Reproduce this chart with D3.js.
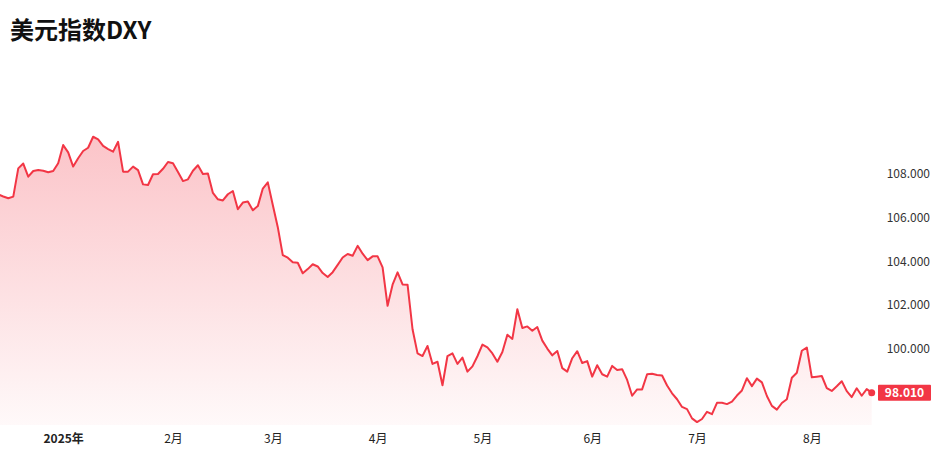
<!DOCTYPE html>
<html>
<head>
<meta charset="utf-8">
<script src="https://cdn.jsdelivr.net/npm/d3@7"></script>
<style>
  html, body { margin: 0; padding: 0; background: #fff; }
  svg { display: block; }
  text { font-family: "Noto Sans CJK SC", "Noto Sans", sans-serif; }
</style>
</head>
<body>
<svg id="chart" width="950" height="460"></svg>
<script>
// DXY daily closes (trading days, mid-Dec 2024 .. late Aug 2025)
const values = [
  107.04,106.95,106.87,106.94,108.23,108.45,107.85,108.11,108.15,108.12,
  108.05,108.11,108.46,109.29,108.96,108.31,108.69,109.02,109.17,109.67,
  109.55,109.25,109.11,108.99,109.44,108.08,108.08,108.31,108.15,107.50,
  107.47,107.96,107.97,108.21,108.52,108.46,108.06,107.65,107.73,108.12,
  108.37,107.97,107.99,107.11,106.82,106.77,107.05,107.20,106.37,106.67,
  106.72,106.32,106.51,107.31,107.59,106.56,105.55,104.28,104.16,103.95,
  103.93,103.45,103.64,103.86,103.76,103.46,103.28,103.50,103.83,104.17,
  104.33,104.25,104.70,104.34,104.05,104.22,104.22,103.72,101.97,102.93,
  103.49,102.94,102.93,100.90,99.80,99.68,100.14,99.32,99.42,98.35,
  99.68,99.80,99.32,99.61,98.97,99.21,99.67,100.20,100.07,99.80,
  99.42,99.86,100.65,100.46,101.81,100.96,101.03,100.83,101.00,100.38,
  100.02,99.71,99.91,99.13,98.97,99.58,99.90,99.36,99.45,98.74,
  99.26,98.85,98.74,99.23,99.04,99.08,98.59,97.87,98.16,98.16,
  98.85,98.87,98.82,98.79,98.34,97.98,97.71,97.36,97.26,96.84,
  96.67,96.81,97.14,97.03,97.55,97.55,97.49,97.60,97.88,98.11,
  98.67,98.31,98.65,98.48,97.86,97.41,97.24,97.54,97.71,98.69,
  98.92,99.92,100.07,98.71,98.74,98.77,98.22,98.09,98.30,98.53,
  98.08,97.81,98.21,97.87,98.17,98.01
];
const tickIdx = [13, 35, 55, 76, 97, 119, 140, 163];
const tickLabels = ["2025年", "2月", "3月", "4月", "5月", "6月", "7月", "8月"];
const yTicks = [100, 102, 104, 106, 108];
const title = "美元指数DXY";
const lastLabel = "98.010";

const RED = "#f23645";
const svg = d3.select("#chart");

const x = d3.scaleLinear().domain([0, values.length - 1]).range([-1.7, 871.7]);
const y = d3.scaleLinear().domain([100, 108]).range([349, 173.4]);
const baseY = 425;

// gradient
const defs = svg.append("defs");
const grad = defs.append("linearGradient")
  .attr("id", "fillGrad").attr("gradientUnits", "userSpaceOnUse")
  .attr("x1", 0).attr("x2", 0).attr("y1", 130).attr("y2", baseY);
grad.append("stop").attr("offset", "0%").attr("stop-color", RED).attr("stop-opacity", 0.3);
grad.append("stop").attr("offset", "100%").attr("stop-color", RED).attr("stop-opacity", 0.03);

const area = d3.area().x((d, i) => x(i)).y0(baseY).y1(d => y(d));
const line = d3.line().x((d, i) => x(i)).y(d => y(d));

svg.append("path").datum(values).attr("d", area).attr("fill", "url(#fillGrad)");
svg.append("path").datum(values).attr("d", line)
  .attr("fill", "none").attr("stroke", RED).attr("stroke-width", 2)
  .attr("stroke-linejoin", "round");

// last point
const li = values.length - 1;
svg.append("circle").attr("cx", x(li)).attr("cy", y(values[li])).attr("r", 3.5).attr("fill", RED);

// y axis
const yAxis = svg.append("g").attr("transform", "translate(930,0)")
  .call(d3.axisLeft(y).tickValues(yTicks).tickFormat(d3.format(".3f")).tickSize(0).tickPadding(0));
yAxis.select(".domain").remove();
yAxis.selectAll("text").attr("font-size", 12).attr("fill", "#333")
  .style("font-family", "'Noto Sans CJK SC', sans-serif");

// last value tag
const ty = y(values[li]);
svg.append("rect").attr("x", 878).attr("y", ty - 8).attr("width", 53).attr("height", 16)
  .attr("rx", 1).attr("fill", RED);
svg.append("text").attr("x", 904.5).attr("y", ty).attr("dy", "0.35em")
  .attr("text-anchor", "middle").attr("fill", "#fff").attr("font-size", 12)
  .attr("font-weight", "bold").text(lastLabel);

// x axis
const xAxis = svg.append("g").attr("transform", `translate(0,${baseY})`)
  .call(d3.axisBottom(x).tickValues(tickIdx).tickFormat((d, i) => tickLabels[i]).tickSize(0).tickPadding(9));
xAxis.select(".domain").remove();
xAxis.selectAll("text").attr("font-size", 12).attr("fill", "#222")
  .attr("font-weight", (d, i) => i === 0 ? "bold" : "normal")
  .style("font-family", "'Noto Sans CJK SC', sans-serif");

// title
svg.append("text").attr("x", 10).attr("y", 39).attr("font-size", 24)
  .attr("font-weight", "bold").attr("fill", "#111").text(title);
</script>
</body>
</html>
